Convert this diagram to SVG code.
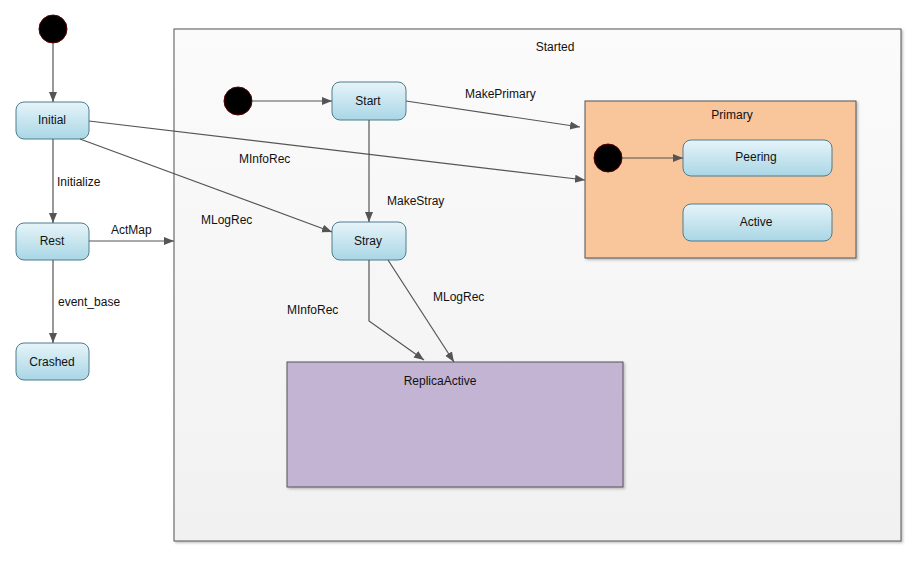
<svg xmlns="http://www.w3.org/2000/svg" width="921" height="564" viewBox="0 0 921 564">
<defs>
<linearGradient id="g" x1="0" y1="0" x2="0" y2="1">
<stop offset="0" stop-color="#e6f4f9"/>
<stop offset="1" stop-color="#a9d6e5"/>
</linearGradient>
<linearGradient id="gs" x1="0" y1="0" x2="0" y2="1">
<stop offset="0" stop-color="#fbfbfb"/>
<stop offset="1" stop-color="#f1f1f1"/>
</linearGradient>
<marker id="a" viewBox="0 0 10 10" refX="10" refY="5" markerWidth="10" markerHeight="10" markerUnits="userSpaceOnUse" orient="auto">
<path d="M0,1 L10,5 L0,9 Z" fill="#555"/>
</marker>
<filter id="sh" x="-5%" y="-5%" width="110%" height="115%">
<feDropShadow dx="1.5" dy="1.5" stdDeviation="1" flood-color="#000" flood-opacity="0.25"/>
</filter>
</defs>
<style>
text{font-family:"Liberation Sans",Arial,sans-serif;font-size:12px;fill:#111}
.st rect{fill:url(#g);stroke:#4f7d8c;stroke-width:1}
.init circle{fill:#000;stroke:#5a0000;stroke-width:1}
.c line,.c polyline{stroke:#555;stroke-width:1.2;fill:none;marker-end:url(#a)}
.m{text-anchor:middle}
</style>
<rect width="921" height="564" fill="#fff"/>
<g id="Started">
<rect x="174" y="29" width="727" height="512" fill="url(#gs)" stroke="#555" stroke-width="1" filter="url(#sh)"/>
<text x="555" y="51" class="m">Started</text>
</g>
<g id="Primary">
<rect x="585" y="101" width="271" height="157" fill="#f9c59b" stroke="#555" stroke-width="1" filter="url(#sh)"/>
<text x="732" y="119" class="m">Primary</text>
</g>
<g id="ReplicaActive">
<rect x="287" y="362" width="336" height="125" fill="#c3b4d4" stroke="#555" stroke-width="1" filter="url(#sh)"/>
<text x="440" y="385" class="m">ReplicaActive</text>
</g>
<g id="init0" class="init"><circle cx="53" cy="29" r="14"/></g>
<g id="init1" class="init"><circle cx="238" cy="101" r="14"/></g>
<g id="init2" class="init"><circle cx="608" cy="158" r="14"/></g>
<g id="Initial" class="st"><rect x="16" y="102" width="73" height="37" rx="8"/><text x="52" y="124" class="m">Initial</text></g>
<g id="Rest" class="st"><rect x="16" y="223" width="73" height="37" rx="8"/><text x="52" y="245" class="m">Rest</text></g>
<g id="Crashed" class="st"><rect x="16" y="343" width="73" height="37" rx="8"/><text x="52" y="366" class="m">Crashed</text></g>
<g id="Start" class="st"><rect x="332" y="82" width="74" height="38" rx="8"/><text x="368" y="105" class="m">Start</text></g>
<g id="Stray" class="st"><rect x="332" y="222" width="74" height="38" rx="8"/><text x="368" y="245" class="m">Stray</text></g>
<g id="Peering" class="st"><rect x="683" y="140" width="149" height="36" rx="8"/><text x="756" y="161" class="m">Peering</text></g>
<g id="Active" class="st"><rect x="683" y="204" width="149" height="37" rx="8"/><text x="756" y="226" class="m">Active</text></g>
<g id="connectors" class="c">
<line x1="53" y1="43" x2="53" y2="102"/>
<line x1="53" y1="139" x2="53" y2="223"/>
<line x1="53" y1="260" x2="53" y2="343"/>
<line x1="89" y1="241" x2="174" y2="241"/>
<line x1="252" y1="101" x2="332" y2="101"/>
<line x1="369" y1="120" x2="369" y2="222"/>
<line x1="80" y1="139" x2="332" y2="232"/>
<line x1="89" y1="121" x2="585" y2="180"/>
<line x1="406" y1="101" x2="580" y2="127"/>
<line x1="622" y1="158" x2="683" y2="158"/>
<polyline points="369,260 369,321 424,360"/>
<line x1="388" y1="260" x2="454" y2="362"/>
</g>
<g id="labels">
<text x="57" y="186">Initialize</text>
<text x="58" y="306">event_base</text>
<text x="111" y="234">ActMap</text>
<text x="387" y="205">MakeStray</text>
<text x="201" y="224">MLogRec</text>
<text x="239" y="163">MInfoRec</text>
<text x="465" y="98">MakePrimary</text>
<text x="287" y="314">MInfoRec</text>
<text x="433" y="301">MLogRec</text>
</g>
</svg>
